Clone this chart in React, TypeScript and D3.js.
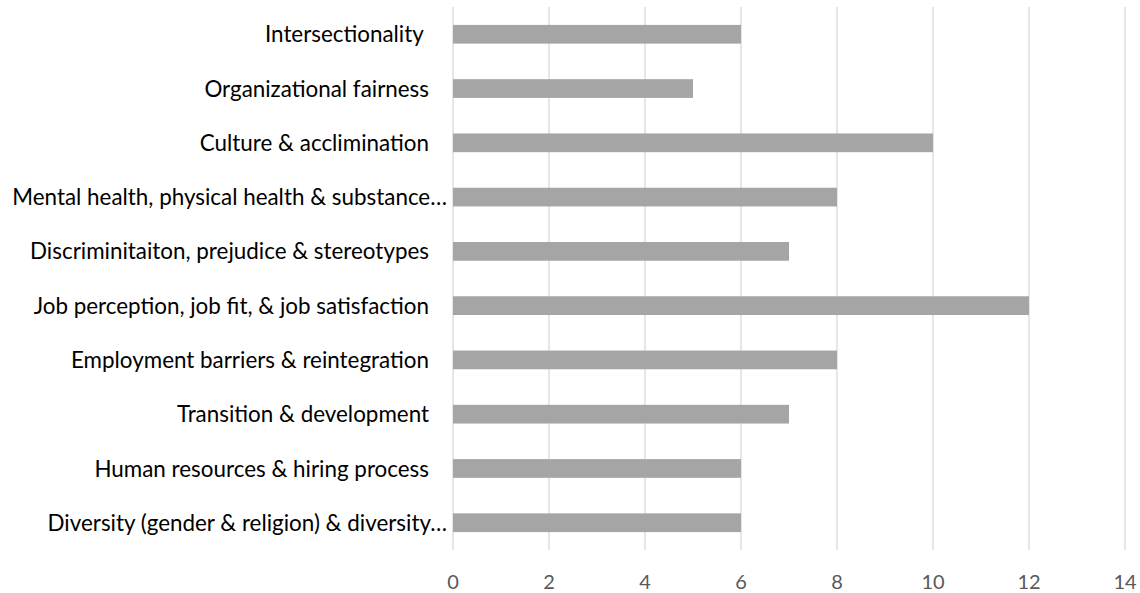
import React from "react";
import * as d3 from "d3";

const categories = [
  "Intersectionality ",
  "Organizational fairness",
  "Culture & acclimination",
  "Mental health, physical health & substance…",
  "Discriminitaiton, prejudice & stereotypes",
  "Job perception, job fit, & job satisfaction",
  "Employment barriers & reintegration",
  "Transition & development",
  "Human resources & hiring process",
  "Diversity (gender & religion) & diversity…",
];
const values = [6, 5, 10, 8, 7, 12, 8, 7, 6, 6];
const xTicks = [0, 2, 4, 6, 8, 10, 12, 14];

const W = 1140;
const H = 593;
const margin = { left: 453, right: 15, top: 7, bottom: 43 };

export default function App() {
  const x = d3.scaleLinear().domain([0, 14]).range([margin.left, W - margin.right]);
  const y = d3
    .scaleBand<string>()
    .domain(categories)
    .range([margin.top, H - margin.bottom])
    .paddingInner(0.655)
    .paddingOuter(0.33);
  const font = "Lato, 'Open Sans', sans-serif";
  return (
    <svg
      width={W}
      height={H}
      style={{ position: "absolute", left: 0, top: 0, background: "#fff" }}
    >
      {xTicks.map((t) => (
        <line
          key={"g" + t}
          x1={x(t)}
          x2={x(t)}
          y1={margin.top}
          y2={H - margin.bottom}
          stroke="#d9d9d9"
          strokeWidth={1.3}
        />
      ))}
      {categories.map((c, i) => (
        <rect
          key={c}
          x={x(0)}
          y={y(c)}
          width={x(values[i]) - x(0)}
          height={y.bandwidth()}
          fill="#a5a5a5"
        />
      ))}
      {categories.map((c) => (
        <text
          key={"l" + c}
          x={c.endsWith("…") ? 447 : 429}
          y={(y(c) as number) + y.bandwidth() / 2}
          dy="0.36em"
          textAnchor="end"
          fontFamily={font}
          fontSize={22.4}
          fill="#000"
          style={{ whiteSpace: "pre" }}
        >
          {c}
        </text>
      ))}
      {xTicks.map((t) => (
        <text
          key={"t" + t}
          x={x(t)}
          y={589}
          textAnchor="middle"
          fontFamily={font}
          fontSize={20}
          fill="#595959"
        >
          {t}
        </text>
      ))}
    </svg>
  );
}
